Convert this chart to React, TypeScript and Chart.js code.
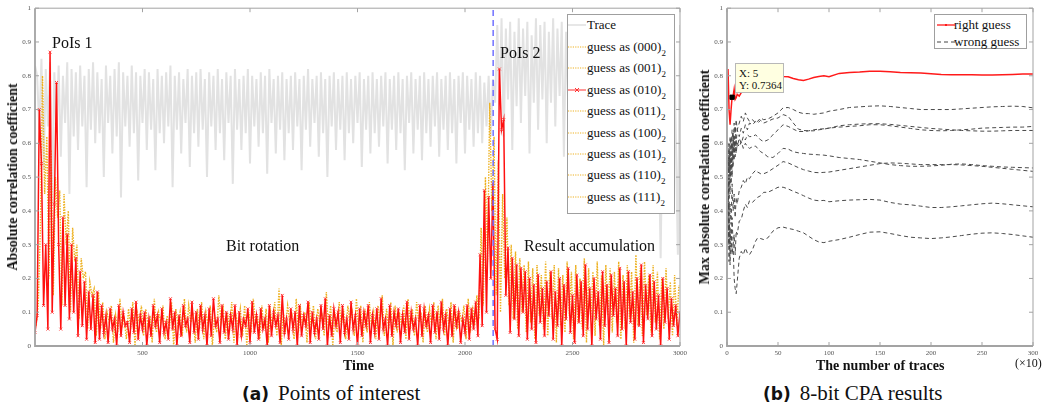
import React, { useEffect, useRef } from 'react';
import { Chart, registerables } from 'chart.js';
Chart.register(...registerables);

// ---------- Panel (a): points of interest ----------
const sampleStep = 10; // time units between stored samples
const traceValues = [
  0.83,0.80,0.64,0.85,0.52,0.82,0.65,0.84,0.42,0.81,0.63,0.83,0.56,0.80,0.66,0.84,0.45,0.82,0.62,0.81,
  0.58,0.83,0.65,0.80,0.47,0.82,0.64,0.84,0.60,0.81,0.63,0.79,0.50,0.83,0.66,0.80,0.57,0.82,0.62,0.84,
  0.44,0.81,0.65,0.80,0.59,0.83,0.63,0.81,0.49,0.80,0.66,0.82,0.58,0.81,0.64,0.79,0.52,0.82,0.63,0.80,
  0.60,0.81,0.65,0.83,0.47,0.80,0.64,0.81,0.57,0.79,0.66,0.82,0.53,0.80,0.63,0.81,0.59,0.82,0.64,0.79,
  0.50,0.81,0.65,0.80,0.58,0.82,0.63,0.79,0.55,0.81,0.66,0.80,0.48,0.82,0.64,0.79,0.58,0.80,0.63,0.82,
  0.54,0.80,0.65,0.79,0.59,0.81,0.63,0.80,0.51,0.82,0.66,0.79,0.57,0.80,0.64,0.81,0.55,0.79,0.63,0.80,
  0.58,0.81,0.65,0.79,0.52,0.80,0.64,0.82,0.59,0.79,0.66,0.80,0.56,0.81,0.63,0.79,0.50,0.80,0.65,0.81,
  0.58,0.79,0.64,0.80,0.55,0.81,0.63,0.79,0.60,0.80,0.66,0.81,0.53,0.79,0.64,0.80,0.57,0.81,0.63,0.79,
  0.59,0.80,0.65,0.81,0.54,0.79,0.64,0.80,0.58,0.81,0.63,0.79,0.52,0.80,0.66,0.81,0.57,0.79,0.64,0.80,
  0.55,0.81,0.63,0.79,0.59,0.80,0.65,0.81,0.56,0.79,0.64,0.80,0.58,0.81,0.63,0.79,0.54,0.80,0.66,0.81,
  0.57,0.80,0.64,0.79,0.59,0.81,0.63,0.80,0.60,0.78,0.65,0.80,0.62,0.79,0.72,0.95,0.70,0.97,0.62,0.94,
  0.73,0.96,0.58,0.93,0.71,0.97,0.66,0.94,0.74,0.96,0.57,0.92,0.72,0.97,0.64,0.95,0.73,0.96,0.60,0.93,
  0.72,0.97,0.65,0.94,0.74,0.96,0.56,0.93,0.71,0.97,0.66,0.95,0.73,0.96,0.59,0.94,0.72,0.97,0.65,0.93,
  0.74,0.96,0.58,0.94,0.71,0.97,0.64,0.95,0.73,0.96,0.60,0.93,0.72,0.97,0.66,0.94,0.74,0.96,0.57,0.95,
  0.72,0.97,0.63,0.94,0.73,0.96,0.58,0.93,0.71,0.97,0.65,0.26,0.74,0.96,0.60,0.94,0.72,0.97,0.64,0.27,
  0.95,
];
const guess010Values = [
  0.04,0.09,0.70,0.54,0.12,0.30,0.05,0.87,0.10,0.42,0.78,0.30,0.05,0.38,0.12,0.33,0.08,0.30,0.10,0.26,
  0.03,0.22,0.06,0.19,0.02,0.16,0.05,0.15,0.01,0.16,
  0.02,0.12,0.04,0.09,0.01,0.11,0.05,0.08,0.00,0.12,0.03,0.10,0.06,0.07,0.01,0.11,0.04,0.13,0.02,0.09,
  0.05,0.10,0.00,0.08,0.03,0.12,0.06,0.09,0.01,0.11,0.04,0.07,0.02,0.14,0.05,0.10,0.00,0.09,0.03,0.12,
  0.06,0.08,0.01,0.13,0.04,0.10,0.02,0.12,0.05,0.09,0.00,0.11,0.03,0.14,0.06,0.08,0.01,0.12,0.04,0.10,
  0.02,0.09,0.05,0.12,0.00,0.10,0.03,0.08,0.06,0.11,0.01,0.13,0.04,0.09,0.02,0.11,0.05,0.08,0.00,0.12,
  0.03,0.10,0.06,0.09,0.01,0.15,0.04,0.08,0.02,0.11,0.05,0.10,0.00,0.12,0.03,0.09,0.06,0.13,0.01,0.10,
  0.04,0.08,0.02,0.12,0.05,0.14,0.00,0.09,0.03,0.11,0.06,0.10,0.01,0.12,0.04,0.08,0.02,0.13,0.05,0.09,
  0.00,0.11,0.03,0.10,0.06,0.12,0.01,0.09,0.04,0.11,0.02,0.14,0.05,0.08,0.00,0.12,0.03,0.10,0.06,0.11,
  0.01,0.09,0.04,0.13,0.02,0.10,0.05,0.08,0.00,0.12,0.03,0.11,0.06,0.09,0.01,0.12,0.04,0.10,0.02,0.13,
  0.05,0.09,0.00,0.11,0.03,0.12,0.06,0.10,0.01,0.08,0.04,0.12,0.02,0.11,0.05,0.13,0.03,0.27,0.06,0.46,
  0.10,0.44,0.20,0.48,0.05,0.02,0.82,0.64,0.67,0.15,0.29,0.04,0.26,0.08,0.24,0.03,0.23,0.10,0.22,0.02,
  0.20,0.05,0.18,0.01,0.21,0.07,0.17,0.03,0.19,0.09,0.22,0.02,0.16,0.06,0.20,0.00,0.18,0.08,0.23,0.04,
  0.15,0.01,0.21,0.07,0.19,0.03,0.24,0.05,0.17,0.00,0.20,0.08,0.16,0.02,0.22,0.06,0.18,0.01,0.21,0.09,
  0.17,0.03,0.23,0.05,0.19,0.00,0.22,0.07,0.16,0.02,0.20,0.06,0.24,0.01,0.18,0.08,0.21,0.03,0.19,0.05,
  0.15,0.00,0.20,0.07,0.17,0.02,0.14,0.06,0.12,0.03,0.10,
];
const otherGuessValues = [
  0.06,0.12,0.35,0.80,0.45,0.62,0.20,0.58,0.15,0.50,0.38,0.46,0.12,0.45,0.30,0.40,0.10,0.35,0.25,0.30,
  0.08,0.26,0.20,0.22,0.05,0.19,0.15,0.17,0.03,0.16,
  0.05,0.13,0.02,0.10,0.07,0.12,0.01,0.09,0.04,0.14,0.06,0.08,0.02,0.11,0.05,0.13,0.00,0.10,0.07,0.12,
  0.03,0.11,0.06,0.09,0.01,0.14,0.04,0.10,0.07,0.12,0.02,0.09,0.05,0.13,0.00,0.11,0.06,0.10,0.03,0.14,
  0.04,0.12,0.07,0.09,0.01,0.11,0.05,0.13,0.02,0.10,0.06,0.12,0.00,0.09,0.04,0.15,0.07,0.11,0.02,0.10,
  0.05,0.13,0.01,0.09,0.06,0.11,0.03,0.12,0.00,0.10,0.04,0.14,0.07,0.09,0.02,0.12,0.05,0.11,0.01,0.10,
  0.06,0.13,0.03,0.17,0.00,0.10,0.05,0.12,0.07,0.09,0.02,0.14,0.04,0.11,0.06,0.10,0.01,0.13,0.05,0.12,
  0.02,0.11,0.07,0.09,0.03,0.16,0.05,0.12,0.00,0.10,0.04,0.13,0.06,0.11,0.02,0.12,0.07,0.10,0.03,0.14,
  0.05,0.12,0.01,0.11,0.04,0.13,0.06,0.10,0.02,0.12,0.07,0.15,0.03,0.11,0.05,0.13,0.00,0.12,0.04,0.10,
  0.06,0.12,0.02,0.14,0.05,0.11,0.03,0.13,0.07,0.10,0.01,0.12,0.04,0.11,0.06,0.13,0.02,0.12,0.05,0.14,
  0.03,0.11,0.06,0.13,0.01,0.12,0.05,0.10,0.07,0.12,0.02,0.14,0.04,0.12,0.06,0.15,0.08,0.35,0.12,0.50,
  0.25,0.72,0.40,0.62,0.15,0.55,0.10,0.45,0.20,0.38,0.12,0.30,0.08,0.28,0.05,0.26,0.10,0.24,0.04,0.25,
  0.07,0.23,0.02,0.24,0.09,0.21,0.05,0.25,0.03,0.22,0.08,0.24,0.01,0.23,0.06,0.21,0.04,0.25,0.09,0.22,
  0.02,0.24,0.07,0.20,0.05,0.26,0.01,0.23,0.08,0.22,0.03,0.25,0.06,0.21,0.00,0.24,0.09,0.23,0.04,0.22,
  0.07,0.25,0.02,0.21,0.05,0.24,0.08,0.22,0.01,0.27,0.06,0.23,0.03,0.25,0.09,0.21,0.04,0.24,0.07,0.22,
  0.02,0.20,0.05,0.23,0.08,0.19,0.03,0.21,0.06,0.18,
];
const poisLineTime = 2131;
const timeTicks = [500, 1000, 1500, 2000, 2500, 3000];
const corrTicks = [0, 0.1, 0.2, 0.3, 0.4, 0.5, 0.6, 0.7, 0.8, 0.9, 1];
const legendGuessCodes = ['000', '001', '010', '011', '100', '101', '110', '111'];

// ---------- Panel (b): 8-bit CPA results ----------
const traceCounts = [1,2,3,4,5,6,7,8,9,10,12,14,16,18,20,22,25,28,30,33,36,40,45,50,55,60,65,70,75,80,85,90,95,100,
  110,120,130,140,150,160,170,180,190,200,210,220,230,240,250,260,270,280,290,300];
const countTicks = [0, 50, 100, 150, 200, 250, 300];
const rightGuess = [0.82,0.70,0.655,0.70,0.7364,0.74,0.76,0.73,0.735,0.745,
  0.74,0.75,0.76,0.765,0.77,0.775,0.78,0.785,0.79,0.79,0.795,0.795,0.80,0.80,0.798,0.797,0.792,0.788,0.786,0.79,0.795,0.798,0.80,0.797,
  0.807,0.81,0.811,0.813,0.813,0.812,0.81,0.809,0.808,0.806,0.804,0.803,0.803,0.803,0.802,0.802,0.803,0.804,0.805,0.805];
const wrong1 = [0.60,0.52,0.62,0.58,0.64,0.60,0.66,0.63,0.67,0.64,
  0.66,0.68,0.665,0.69,0.675,0.665,0.67,0.66,0.665,0.675,0.67,0.672,0.68,0.69,0.705,0.706,0.70,0.692,0.688,0.688,0.686,0.688,0.69,0.695,
  0.70,0.706,0.708,0.71,0.711,0.709,0.706,0.703,0.70,0.70,0.70,0.70,0.702,0.704,0.706,0.708,0.709,0.71,0.709,0.705];
const wrong2 = [0.45,0.60,0.50,0.62,0.55,0.63,0.58,0.65,0.60,0.64,
  0.62,0.645,0.63,0.655,0.64,0.66,0.655,0.665,0.66,0.668,0.66,0.665,0.672,0.675,0.685,0.68,0.66,0.642,0.638,0.637,0.637,0.64,0.642,0.645,
  0.648,0.65,0.652,0.655,0.655,0.652,0.648,0.644,0.64,0.638,0.637,0.638,0.64,0.642,0.645,0.646,0.647,0.648,0.648,0.65];
const wrong3 = [0.55,0.40,0.58,0.48,0.60,0.53,0.62,0.56,0.61,0.59,
  0.615,0.60,0.62,0.61,0.625,0.62,0.62,0.625,0.62,0.61,0.605,0.61,0.625,0.64,0.655,0.65,0.642,0.635,0.635,0.637,0.64,0.642,0.643,0.645,
  0.652,0.655,0.657,0.658,0.658,0.656,0.653,0.65,0.647,0.644,0.642,0.64,0.638,0.637,0.636,0.636,0.637,0.638,0.638,0.638];
const wrong4 = [0.35,0.55,0.45,0.58,0.50,0.60,0.55,0.62,0.57,0.60,
  0.59,0.605,0.585,0.60,0.59,0.585,0.59,0.592,0.585,0.575,0.57,0.56,0.558,0.57,0.585,0.583,0.575,0.572,0.57,0.568,0.567,0.566,0.565,0.563,
  0.558,0.555,0.552,0.547,0.542,0.537,0.534,0.532,0.532,0.533,0.535,0.538,0.539,0.537,0.534,0.532,0.53,0.529,0.528,0.527];
const wrong5 = [0.50,0.30,0.42,0.36,0.48,0.40,0.45,0.38,0.44,0.42,
  0.46,0.47,0.49,0.48,0.50,0.495,0.51,0.52,0.515,0.51,0.51,0.515,0.525,0.535,0.546,0.542,0.535,0.528,0.522,0.518,0.514,0.513,0.514,0.515,
  0.52,0.525,0.53,0.535,0.54,0.542,0.541,0.539,0.537,0.537,0.537,0.537,0.536,0.534,0.532,0.529,0.526,0.523,0.52,0.517];
const wrong6 = [0.40,0.25,0.35,0.28,0.38,0.30,0.33,0.27,0.34,0.33,
  0.37,0.375,0.40,0.42,0.41,0.43,0.425,0.435,0.44,0.445,0.455,0.455,0.462,0.47,0.47,0.465,0.458,0.452,0.445,0.438,0.432,0.43,0.431,0.427,
  0.43,0.432,0.433,0.434,0.432,0.425,0.42,0.418,0.414,0.41,0.41,0.412,0.415,0.418,0.421,0.423,0.421,0.418,0.415,0.412];
const wrong7 = [0.30,0.42,0.24,0.35,0.27,0.30,0.20,0.17,0.155,0.19,
  0.26,0.28,0.27,0.29,0.275,0.27,0.285,0.31,0.32,0.318,0.315,0.32,0.34,0.35,0.352,0.348,0.345,0.34,0.335,0.325,0.315,0.308,0.306,0.31,
  0.315,0.322,0.33,0.337,0.338,0.333,0.327,0.322,0.32,0.318,0.32,0.323,0.327,0.331,0.334,0.335,0.333,0.33,0.326,0.322];
const wrongGuesses = [wrong1, wrong2, wrong3, wrong4, wrong5, wrong6, wrong7];
const dataTip = { x: 5, y: 0.7364 };

// ---------- helpers ----------
const SERIF = '"Liberation Serif", "Times New Roman", serif';
const fmtCorr = (v: any) => String(Math.round(Number(v) * 10) / 10);

function boxPlugin(xTicks: number[], yTicks: number[]) {
  return {
    id: 'matlabBox',
    afterDraw(chart: any) {
      const { ctx, chartArea: a, scales } = chart;
      ctx.save();
      ctx.strokeStyle = '#a3a3a3';
      ctx.lineWidth = 1;
      ctx.beginPath();
      ctx.moveTo(a.left, a.top); ctx.lineTo(a.right, a.top); ctx.lineTo(a.right, a.bottom);
      for (const v of xTicks) {
        const x = scales.x.getPixelForValue(v);
        ctx.moveTo(x, a.bottom); ctx.lineTo(x, a.bottom - 4);
        ctx.moveTo(x, a.top); ctx.lineTo(x, a.top + 4);
      }
      for (const v of yTicks) {
        const y = scales.y.getPixelForValue(v);
        ctx.moveTo(a.left, y); ctx.lineTo(a.left + 4, y);
        ctx.moveTo(a.right, y); ctx.lineTo(a.right - 4, y);
      }
      ctx.stroke();
      ctx.lineWidth = 1.8;
      ctx.beginPath();
      ctx.moveTo(a.left, a.top); ctx.lineTo(a.left, a.bottom); ctx.lineTo(a.right, a.bottom);
      ctx.stroke();
      ctx.restore();
    },
  };
}

function scaleOpts(ticks: number[], min: number, max: number, isY: boolean, size: number, fmt: (v: any) => string) {
  return {
    type: 'linear',
    min, max,
    grid: { display: false, drawTicks: false },
    border: { display: false },
    afterBuildTicks: (s: any) => { s.ticks = ticks.map((v) => ({ value: v })); },
    afterFit: (s: any) => { if (isY) s.width = size; else s.height = size; },
    ticks: {
      padding: isY ? 4 : 3,
      color: '#555',
      autoSkip: false,
      maxRotation: 0,
      font: { family: SERIF, size: 7 },
      callback: fmt,
    },
  };
}

function LeftChart() {
  const ref = useRef<HTMLCanvasElement>(null);
  useEffect(() => {
    const chart = new Chart(ref.current as HTMLCanvasElement, {
      type: 'line',
      data: {
        datasets: [
          {
            data: traceValues.map((y, i) => ({ x: i * sampleStep, y })),
            borderColor: '#e2e2e2', borderWidth: 2, pointRadius: 0, order: 4,
          },
          {
            data: otherGuessValues.map((y, i) => ({ x: i * sampleStep + sampleStep / 2, y })),
            borderColor: '#EDB120', borderWidth: 1.4, borderDash: [1.5, 1.2], pointRadius: 0, order: 3,
          },
          {
            data: guess010Values.map((y, i) => ({ x: i * sampleStep, y })),
            borderColor: '#ff1010', borderWidth: 1.5, pointRadius: 2, pointStyle: 'crossRot',
            pointBorderColor: '#ff3a3a', pointBorderWidth: 1, pointBackgroundColor: 'rgba(0,0,0,0)', order: 2,
          },
          {
            data: [{ x: poisLineTime, y: 0 }, { x: poisLineTime, y: 1 }],
            borderColor: '#7070ff', borderWidth: 1.5, borderDash: [6, 4], pointRadius: 0, order: 1,
          },
        ] as any,
      },
      options: {
        animation: false,
        responsive: false,
        events: [],
        layout: { padding: { left: 0, top: 8, right: 8, bottom: 0 } },
        plugins: { legend: { display: false }, tooltip: { enabled: false } },
        scales: {
          x: scaleOpts(timeTicks, 0, 3000, false, 34, (v: any) => String(v)),
          y: scaleOpts(corrTicks, 0, 1, true, 35, fmtCorr),
        } as any,
      },
      plugins: [boxPlugin(timeTicks, corrTicks)],
    } as any);
    return () => chart.destroy();
  }, []);
  return <canvas ref={ref} width={690} height={380} style={{ position: 'absolute', left: 0, top: 0, width: 690, height: 380 }} />;
}

function RightChart() {
  const ref = useRef<HTMLCanvasElement>(null);
  useEffect(() => {
    const datasets: any[] = wrongGuesses.map((arr) => ({
      data: traceCounts.map((x, i) => ({ x, y: arr[i] })),
      borderColor: '#4a4a4a', borderWidth: 1, borderDash: [4, 3], pointRadius: 0, order: 3,
    }));
    datasets.push({
      data: traceCounts.map((x, i) => ({ x, y: rightGuess[i] })),
      borderColor: '#ff1a1a', borderWidth: 1.5, pointRadius: 0, order: 2,
    });
    datasets.push({
      data: [dataTip], showLine: false, pointStyle: 'rect', pointRadius: 3,
      pointBackgroundColor: '#000', pointBorderColor: '#000', order: 1,
    });
    const chart = new Chart(ref.current as HTMLCanvasElement, {
      type: 'line',
      data: { datasets },
      options: {
        animation: false,
        responsive: false,
        events: [],
        layout: { padding: { left: 0, top: 8, right: 9, bottom: 0 } },
        plugins: { legend: { display: false }, tooltip: { enabled: false } },
        scales: {
          x: scaleOpts(countTicks, 0, 300, false, 34, (v: any) => String(v)),
          y: scaleOpts(corrTicks, 0, 1, true, 37, fmtCorr),
        } as any,
      },
      plugins: [boxPlugin(countTicks, corrTicks)],
    } as any);
    return () => chart.destroy();
  }, []);
  return <canvas ref={ref} width={352} height={380} style={{ position: 'absolute', left: 690, top: 0, width: 352, height: 380 }} />;
}

const abs = (left: number, top: number, extra: any = {}) => ({ position: 'absolute' as const, left, top, whiteSpace: 'nowrap' as const, ...extra });

function LineSample({ kind }: { kind: 'trace' | 'dot' | 'red' | 'redDot' | 'dash' }) {
  return (
    <svg width={18} height={8} style={{ display: 'block' }}>
      {kind === 'trace' && <line x1={0} y1={4} x2={18} y2={4} stroke="#cfcfcf" strokeWidth={1} />}
      {kind === 'dot' && <line x1={0} y1={4} x2={18} y2={4} stroke="#EDB120" strokeWidth={1} strokeDasharray="1.2 1.2" />}
      {kind === 'red' && (
        <g>
          <line x1={0} y1={4} x2={18} y2={4} stroke="#ff3030" strokeWidth={1} />
          <path d="M7 2 L11 6 M11 2 L7 6" stroke="#ff3030" strokeWidth={1} />
        </g>
      )}
      {kind === 'redDot' && (
        <g>
          <line x1={0} y1={4} x2={18} y2={4} stroke="#ff1a1a" strokeWidth={1.3} />
          <rect x={8} y={3} width={2} height={2} fill="#ff1a1a" />
        </g>
      )}
      {kind === 'dash' && <line x1={0} y1={4} x2={18} y2={4} stroke="#444" strokeWidth={1} strokeDasharray="4 3" />}
    </svg>
  );
}

function LeftLegend() {
  const rowCenters = [10, ...legendGuessCodes.map((_, k) => 32 + k * 21.4)];
  return (
    <div style={abs(567, 14, { width: 108, height: 200, background: '#fff', border: '1px solid #9f9f9f', boxSizing: 'border-box', fontFamily: SERIF, fontSize: 13, lineHeight: '13px', color: '#111' })}>
      <div style={abs(0, rowCenters[0] - 4)}><LineSample kind="trace" /></div>
      <div style={abs(19, rowCenters[0] - 7)}>Trace</div>
      {legendGuessCodes.map((code, k) => (
        <React.Fragment key={code}>
          <div style={abs(0, rowCenters[k + 1] - 4)}><LineSample kind={code === '010' ? 'red' : 'dot'} /></div>
          <div style={abs(19, rowCenters[k + 1] - 7)}>
            guess as ({code})<span style={{ fontSize: 9, position: 'relative', top: 5 }}>2</span>
          </div>
        </React.Fragment>
      ))}
    </div>
  );
}

function RightLegend() {
  return (
    <div style={abs(934, 14, { width: 93, height: 35, background: '#fff', border: '1px solid #9f9f9f', boxSizing: 'border-box', fontFamily: SERIF, fontSize: 13, lineHeight: '13px', color: '#111' })}>
      <div style={abs(2, 6)}><LineSample kind="redDot" /></div>
      <div style={abs(19, 3)}>right guess</div>
      <div style={abs(2, 23)}><LineSample kind="dash" /></div>
      <div style={abs(19, 20)}>wrong guess</div>
    </div>
  );
}

export default function App() {
  const ann = { fontFamily: SERIF, fontSize: 16, lineHeight: '16px', color: '#111' };
  const axisTitle = { fontFamily: SERIF, fontSize: 14, lineHeight: '14px', fontWeight: 'bold' as const, color: '#111' };
  const yTitle = (cx: number, text: string) => (
    <div style={abs(cx, 177, { ...axisTitle, transform: 'translate(-50%, -50%) rotate(-90deg)' })}>{text}</div>
  );
  return (
    <div style={{ position: 'absolute', left: 0, top: 0, width: 1042, height: 407, background: '#fff', overflow: 'hidden' }}>
      <LeftChart />
      <RightChart />
      <div style={abs(52, 35, ann)}>PoIs 1</div>
      <div style={abs(500, 45, ann)}>PoIs 2</div>
      <div style={abs(226, 238, ann)}>Bit rotation</div>
      <div style={abs(524, 238, ann)}>Result accumulation</div>
      <LeftLegend />
      <RightLegend />
      <div style={abs(735, 63, { width: 49, height: 30, background: '#ffffe1', border: '1px solid #b8b8b8', boxSizing: 'border-box', fontFamily: SERIF, fontSize: 11, lineHeight: '12px', padding: '3px 0 0 3px', color: '#111' })}>
        X: {dataTip.x}<br />Y: {dataTip.y}
      </div>
      {yTitle(12.5, 'Absolute correlation coefficient')}
      {yTitle(705, 'Max absolute correlation coefficient')}
      <div style={abs(343, 359, axisTitle)}>Time</div>
      <div style={abs(816, 359, axisTitle)}>The number of traces</div>
      <div style={abs(1015, 357, { fontFamily: SERIF, fontSize: 12, lineHeight: '12px', color: '#111' })}>(×10)</div>
      <div style={abs(242, 381, { display: 'flex', alignItems: 'baseline', gap: 9, color: '#111' })}>
        <span style={{ fontFamily: '"DejaVu Sans", sans-serif', fontWeight: 'bold', fontSize: 17 }}>(a)</span>
        <span style={{ fontFamily: SERIF, fontSize: 21 }}>Points of interest</span>
      </div>
      <div style={abs(763, 381, { display: 'flex', alignItems: 'baseline', gap: 9, color: '#111' })}>
        <span style={{ fontFamily: '"DejaVu Sans", sans-serif', fontWeight: 'bold', fontSize: 17 }}>(b)</span>
        <span style={{ fontFamily: SERIF, fontSize: 21 }}>8-bit CPA results</span>
      </div>
    </div>
  );
}
